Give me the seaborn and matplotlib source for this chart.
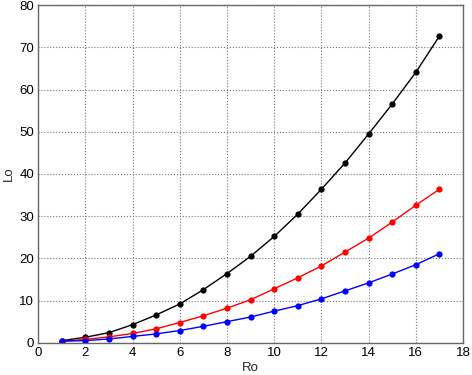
import pandas as pd
import seaborn as sns
import matplotlib.pyplot as plt

# --- データ ---
ro = list(range(1, 18))
lo_black = [0.5, 1.3, 2.4, 4.3, 6.6, 9.2, 12.6, 16.4, 20.5, 25.2, 30.5, 36.4, 42.6, 49.5, 56.6, 64.1, 72.7]
lo_red = [0.3, 0.8, 1.4, 2.2, 3.3, 4.8, 6.4, 8.2, 10.2, 12.8, 15.4, 18.2, 21.5, 24.8, 28.6, 32.6, 36.4]
lo_blue = [0.4, 0.5, 0.9, 1.5, 2.1, 2.9, 3.9, 5.0, 6.1, 7.5, 8.8, 10.4, 12.3, 14.2, 16.3, 18.5, 21.1]

series = {'black': lo_black, 'red': lo_red, 'blue': lo_blue}

df = pd.concat(
    [pd.DataFrame({'Ro': ro, 'Lo': v, 'series': k}) for k, v in series.items()],
    ignore_index=True,
)

sns.set_style('white')
plt.rcParams['font.family'] = ['Liberation Sans', 'DejaVu Sans']

fig = plt.figure(figsize=(4.72, 3.75), dpi=100)
ax = fig.add_axes([0.081, 0.086, 0.9, 0.9])

palette = {'black': 'black', 'red': '#ff0000', 'blue': '#0000ff'}
sns.lineplot(data=df, x='Ro', y='Lo', hue='series', palette=palette,
             marker='o', markersize=4.5, markeredgewidth=0, linewidth=1,
             legend=False, ax=ax)

ax.set_xlim(0, 18)
ax.set_ylim(0, 80)
ax.set_xticks(range(0, 19, 2))
ax.set_yticks(range(0, 81, 10))
ax.grid(True, linestyle=':', color='#777777', linewidth=0.8)
ax.tick_params(direction='in', length=3, color='#555555', labelsize=9.5, colors='black', pad=3)
for s in ax.spines.values():
    s.set_color('#666666')
    s.set_linewidth(1.0)
ax.set_xlabel('Ro', fontsize=9.5, labelpad=2)
ax.set_ylabel('Lo', fontsize=9.5, labelpad=3)

fig.savefig('out.png', dpi=100)
